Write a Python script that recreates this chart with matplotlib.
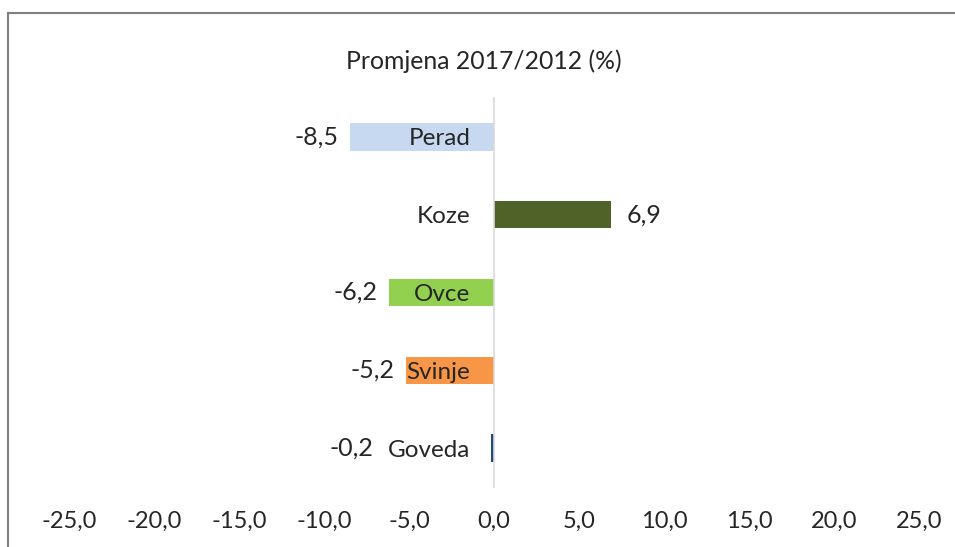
import matplotlib
matplotlib.use("Agg")
import matplotlib.pyplot as plt
from matplotlib.lines import Line2D

# data (bottom to top)
categories = ["Goveda", "Svinje", "Ovce", "Koze", "Perad"]
values = [-0.2, -5.2, -6.2, 6.9, -8.5]
colors = ["#1f497d", "#f79646", "#92d050", "#4f6228", "#c6d9f1"]
xticks = [-25, -20, -15, -10, -5, 0, 5, 10, 15, 20, 25]
title = "Promjena 2017/2012 (%)"

plt.rcParams["font.family"] = ["Lato", "DejaVu Sans"]
TXT = "#262626"

W, H = 955, 547
fig = plt.figure(figsize=(W / 100, H / 100), dpi=100)
ax = fig.add_axes([69 / W, 60 / H, 850 / W, 389 / H])

# move the y spine to zero first: doing it later resets the tick styling
for s in ["top", "right", "bottom"]:
    ax.spines[s].set_visible(False)
ax.spines["left"].set_position(("data", 0))
ax.spines["left"].set_color("#d9d9d9")
ax.spines["left"].set_linewidth(1.2)

ypos = range(len(categories))
ax.barh(ypos, values, height=0.35, color=colors, zorder=1)

ax.set_xlim(-25, 25)
ax.set_ylim(-0.5, len(categories) - 0.5)
ax.set_xticks(xticks)
ax.set_xticklabels([f"{t:.1f}".replace(".", ",") for t in xticks], fontsize=17, color=TXT)
ax.set_yticks(list(ypos))
ax.set_yticklabels(categories, fontsize=17.5, color=TXT)
ax.tick_params(axis="x", length=0, pad=17)
ax.tick_params(axis="y", length=0, pad=17)

# value labels; the tiny Goveda bar gets its label pushed left of the category name
for y, v in zip(ypos, values):
    txt = f"{v:.1f}".replace(".", ",")
    if abs(v) < 1:
        ax.annotate(txt, (0, y), xytext=(-87, 0), textcoords="offset points",
                    ha="right", va="center", fontsize=18, color=TXT)
    elif v < 0:
        ax.annotate(txt, (v, y), xytext=(-8, 0), textcoords="offset points",
                    ha="right", va="center", fontsize=18, color=TXT)
    else:
        ax.annotate(txt, (v, y), xytext=(11, 0), textcoords="offset points",
                    ha="left", va="center", fontsize=18, color=TXT)

fig.text(484 / W, 1 - 61 / H, title, ha="center", va="center", fontsize=17.8, color=TXT)

# chart border (top and left edges visible)
fig.add_artist(Line2D([8 / W, 1], [1 - 13 / H, 1 - 13 / H], color="#808080", lw=1.5))
fig.add_artist(Line2D([8 / W, 8 / W], [0, 1 - 13 / H], color="#808080", lw=1.5))

fig.savefig("out.png", dpi=100)
